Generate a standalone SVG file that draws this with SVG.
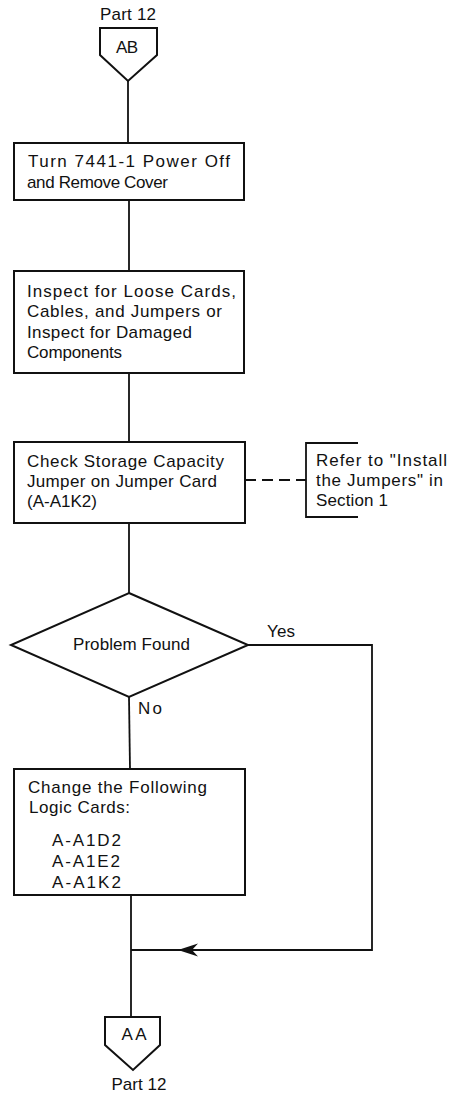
<svg xmlns="http://www.w3.org/2000/svg" width="449" height="1093" viewBox="0 0 449 1093">
  <style>
    .shape { fill: #fff; stroke: #111; stroke-width: 2; }
    .line { fill: none; stroke: #111; stroke-width: 1.8; }
    .dash { fill: none; stroke: #111; stroke-width: 2; stroke-dasharray: 11 6; }
    text { font-family: "Liberation Sans", Arial, sans-serif; font-size: 17px; fill: #111; }
    .mid { text-anchor: middle; }
  </style>

  <rect width="449" height="1093" fill="#fff"/>

  <!-- connectors -->
  <g id="connectors">
    <line class="line" x1="128" y1="81" x2="128" y2="143"/>
    <line class="line" x1="129" y1="200" x2="129" y2="271"/>
    <line class="line" x1="129" y1="373" x2="129" y2="442"/>
    <line class="line" x1="129" y1="523" x2="129" y2="593"/>
    <line class="dash" x1="245" y1="480" x2="306" y2="480"/>
    <line class="line" x1="129" y1="697" x2="130" y2="769"/>
    <text x="138" y="714" textLength="24">No</text>
    <polyline class="line" points="248,645 372,645 372,950 131,950"/>
    <text x="267" y="637" textLength="28">Yes</text>
    <path d="M178,950 L198,943.5 L192,950 L198,956.5 Z" fill="#111"/>
    <line class="line" x1="131" y1="895" x2="131" y2="1017"/>
  </g>

  <!-- off-page connector in -->
  <g id="conn-ab">
    <text class="mid" x="128" y="20" textLength="56">Part 12</text>
    <polygon class="shape" points="100,28 157,28 157,55 128,81 100,55"/>
    <text class="mid" x="127" y="53" textLength="22">AB</text>
  </g>

  <g id="step-power-off">
    <rect class="shape" x="14" y="143" width="230" height="57"/>
    <text x="28" y="167" textLength="202">Turn 7441-1 Power Off</text>
    <text x="27" y="188" textLength="141">and Remove Cover</text>
  </g>

  <g id="step-inspect">
    <rect class="shape" x="14" y="271" width="230" height="102"/>
    <text x="27" y="297" textLength="209">Inspect for Loose Cards,</text>
    <text x="27" y="317" textLength="195">Cables, and Jumpers or</text>
    <text x="27" y="338" textLength="165">Inspect for Damaged</text>
    <text x="27" y="358" textLength="95">Components</text>
  </g>

  <g id="step-check-jumper">
    <rect class="shape" x="14" y="442" width="231" height="81"/>
    <text x="27" y="467" textLength="197">Check Storage Capacity</text>
    <text x="27" y="487" textLength="190">Jumper on Jumper Card</text>
    <text x="27" y="507" textLength="70">(A-A1K2)</text>
  </g>

  <g id="note-install">
    <polyline class="line" points="358,443 306,443 306,517 358,517"/>
    <text x="316" y="466" textLength="131">Refer to "Install</text>
    <text x="316" y="486" textLength="127">the Jumpers" in</text>
    <text x="316" y="506" textLength="72">Section 1</text>
  </g>

  <g id="decision-problem">
    <polygon class="shape" points="129,593 248,645 129,697 11,645"/>
    <text class="mid" x="131.5" y="650" textLength="117">Problem Found</text>
  </g>

  <g id="step-change-cards">
    <rect class="shape" x="14" y="769" width="231" height="126"/>
    <text x="28" y="793" textLength="179">Change the Following</text>
    <text x="29" y="813" textLength="101">Logic Cards:</text>
    <text x="52" y="846" textLength="69">A-A1D2</text>
    <text x="52" y="867" textLength="68">A-A1E2</text>
    <text x="52" y="888" textLength="69">A-A1K2</text>
  </g>

  <!-- off-page connector out -->
  <g id="conn-aa">
    <polygon class="shape" points="105,1017 160,1017 160,1045 133,1070 105,1045"/>
    <text class="mid" x="134" y="1040" textLength="25">AA</text>
    <text class="mid" x="139" y="1090" textLength="55">Part 12</text>
  </g>
</svg>
